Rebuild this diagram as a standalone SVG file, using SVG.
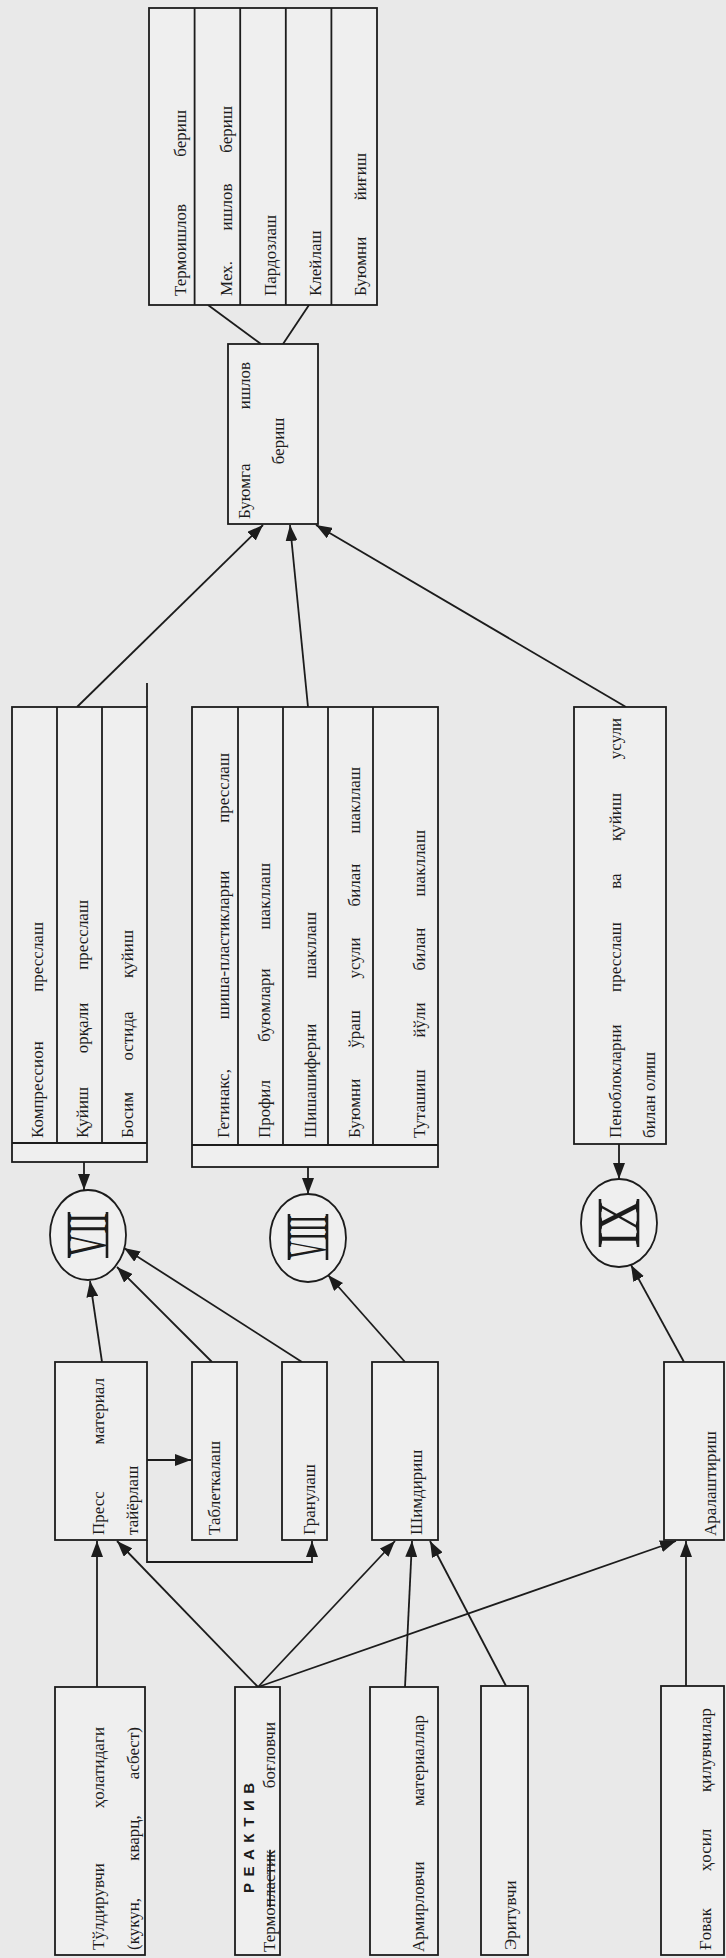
<svg xmlns="http://www.w3.org/2000/svg" width="726" height="1958" viewBox="0 0 726 1958">
<style>
.b{fill:#efefef;stroke:#1c1c1c;stroke-width:1.8}
.l{fill:none;stroke:#1c1c1c;stroke-width:1.8}
.a{marker-end:url(#ah)}
.t{font-family:"Liberation Serif","Times New Roman",serif;font-size:17px;fill:#1c1c1c}
.m{text-anchor:middle}
.e{text-anchor:end}
.r{font-family:"Liberation Serif","Times New Roman",serif;font-size:58px;fill:#1c1c1c}
.bar{fill:none;stroke:#1c1c1c;stroke-width:2.6}
.s{font-family:"Liberation Sans",Arial,sans-serif;font-size:15px;font-weight:bold;fill:#1c1c1c}
</style>
<defs>
<marker id="ah" viewBox="0 0 16 12" refX="16" refY="6" markerWidth="16" markerHeight="12" markerUnits="userSpaceOnUse" orient="auto">
<path d="M0,0 L16,6 L0,12 z" fill="#1c1c1c"/>
</marker>
</defs>
<rect width="726" height="1958" fill="#e9e9e9"/>

<g id="connectors">
<path class="l a" d="M97,1687 L97,1541"/>
<path class="l a" d="M258,1687 L117,1541"/>
<path class="l a" d="M258,1687 L395,1541"/>
<path class="l a" d="M258,1687 L676,1541"/>
<path class="l a" d="M405,1687 L412,1541"/>
<path class="l a" d="M506,1686 L430,1541"/>
<path class="l a" d="M686,1686 L686,1541"/>
<path class="l a" d="M147,1460 L191,1460"/>
<path class="l a" d="M147,1540 L147,1562 L312,1562 L312,1541"/>
<path class="l a" d="M102,1362 L90,1281"/>
<path class="l a" d="M212,1362 L117,1267"/>
<path class="l a" d="M302,1362 L124,1248"/>
<path class="l a" d="M84,1162 L84,1190"/>
<path class="l a" d="M308,1167 L308,1194"/>
<path class="l a" d="M405,1362 L328,1275"/>
<path class="l a" d="M619,1144 L619,1179"/>
<path class="l a" d="M684,1362 L631,1265"/>
<path class="l a" d="M77,707 L263,525"/>
<path class="l a" d="M308,707 L290,525"/>
<path class="l a" d="M626,707 L316,525"/>
<path class="l" d="M261,344 L208,305"/>
<path class="l" d="M283,344 L309,305"/>
</g>

<g id="finishing-list">
<rect class="b" x="149" y="8" width="228" height="297"/>
<path class="l" d="M194.6,8 V305 M240.2,8 V305 M285.8,8 V305 M331.4,8 V305"/>
<g transform="translate(186,296) rotate(-90)"><text class="t" x="0">Термоишлов</text><text class="t e" x="186">бериш</text></g>
<g transform="translate(232,296) rotate(-90)"><text class="t" x="0">Мех.</text><text class="t m" x="89">ишлов</text><text class="t e" x="190">бериш</text></g>
<text class="t" transform="translate(276,296) rotate(-90)">Пардозлаш</text>
<text class="t" transform="translate(321,296) rotate(-90)">Клейлаш</text>
<g transform="translate(366,296) rotate(-90)"><text class="t" x="0">Буюмни</text><text class="t e" x="143">йиғиш</text></g>
</g>

<g id="finishing">
<rect class="b" x="228" y="344" width="90" height="180"/>
<g transform="translate(250,519) rotate(-90)"><text class="t" x="0">Буюмга</text><text class="t e" x="157">ишлов</text></g>
<text class="t m" transform="translate(284,441) rotate(-90)">бериш</text>
</g>

<g id="group7-processes">
<rect class="b" x="12" y="707" width="135" height="455"/>
<path class="l" d="M57,707 V1143 M102,707 V1143 M12,1143 H147 M147,683 V707"/>
<g transform="translate(43,1138) rotate(-90)"><text class="t" x="0">Компрессион</text><text class="t e" x="216">пресслаш</text></g>
<g transform="translate(88,1138) rotate(-90)"><text class="t" x="0">Қуйиш</text><text class="t m" x="110">орқали</text><text class="t e" x="238">пресслаш</text></g>
<g transform="translate(133,1138) rotate(-90)"><text class="t" x="0">Босим</text><text class="t m" x="102">остида</text><text class="t e" x="208">қуйиш</text></g>
</g>

<g id="group8-processes">
<rect class="b" x="192" y="707" width="246" height="460"/>
<path class="l" d="M238,707 V1145 M283,707 V1145 M328,707 V1145 M373,707 V1145 M192,1145 H438"/>
<g transform="translate(229,1138) rotate(-90)"><text class="t" x="0">Гетинакс,</text><text class="t m" x="193">шиша-пластикларни</text><text class="t e" x="385">пресслаш</text></g>
<g transform="translate(270,1138) rotate(-90)"><text class="t" x="0">Профил</text><text class="t m" x="133">буюмлари</text><text class="t e" x="275">шакллаш</text></g>
<g transform="translate(316,1138) rotate(-90)"><text class="t" x="0">Шишашиферни</text><text class="t e" x="226">шакллаш</text></g>
<g transform="translate(360,1138) rotate(-90)"><text class="t" x="0">Буюмни</text><text class="t m" x="109">ўраш</text><text class="t m" x="180">усули</text><text class="t m" x="253">билан</text><text class="t e" x="371">шакллаш</text></g>
<g transform="translate(425,1138) rotate(-90)"><text class="t" x="0">Туташиш</text><text class="t m" x="118">йўли</text><text class="t m" x="189">билан</text><text class="t e" x="308">шакллаш</text></g>
</g>

<g id="group9-process">
<rect class="b" x="574" y="707" width="92" height="437"/>
<g transform="translate(621,1138) rotate(-90)"><text class="t" x="0">Пеноблокларни</text><text class="t m" x="181">пресслаш</text><text class="t m" x="257">ва</text><text class="t m" x="321">қуйиш</text><text class="t e" x="420">усули</text></g>
<text class="t" transform="translate(655,1138) rotate(-90)">билан олиш</text>
</g>

<g id="circle-VII">
<ellipse class="b" cx="88" cy="1235" rx="38" ry="45"/>
<text class="r" transform="translate(107,1257) rotate(-90)" textLength="44" lengthAdjust="spacingAndGlyphs">VII</text>
<path class="bar" d="M69,1212 V1258 M107,1212 V1258"/>
</g>
<g id="circle-VIII">
<ellipse class="b" cx="308" cy="1238" rx="38" ry="44"/>
<text class="r" transform="translate(327,1259) rotate(-90)" textLength="44" lengthAdjust="spacingAndGlyphs">VIII</text>
<path class="bar" d="M289,1214 V1260 M327,1214 V1260"/>
</g>
<g id="circle-IX">
<ellipse class="b" cx="619" cy="1223" rx="38" ry="44"/>
<text class="r" transform="translate(638,1246) rotate(-90)" textLength="46" lengthAdjust="spacingAndGlyphs">IX</text>
<path class="bar" d="M600,1199 V1247 M638,1199 V1247"/>
</g>

<g id="press-material">
<rect class="b" x="55" y="1362" width="92" height="178"/>
<g transform="translate(104,1535) rotate(-90)"><text class="t" x="0">Пресс</text><text class="t e" x="157">материал</text></g>
<text class="t" transform="translate(138,1535) rotate(-90)">тайёрлаш</text>
</g>
<g id="tabletting">
<rect class="b" x="192" y="1362" width="45" height="178"/>
<text class="t" transform="translate(220,1535) rotate(-90)">Таблеткалаш</text>
</g>
<g id="granulation">
<rect class="b" x="282" y="1362" width="45" height="178"/>
<text class="t" transform="translate(315,1535) rotate(-90)">Гранулаш</text>
</g>
<g id="impregnation">
<rect class="b" x="372" y="1362" width="66" height="178"/>
<text class="t" transform="translate(422,1535) rotate(-90)">Шимдириш</text>
</g>
<g id="mixing">
<rect class="b" x="664" y="1362" width="60" height="178"/>
<text class="t" transform="translate(716,1536) rotate(-90)">Аралаштириш</text>
</g>

<g id="filler">
<rect class="b" x="55" y="1687" width="90" height="268"/>
<g transform="translate(104,1950) rotate(-90)"><text class="t" x="0">Тўлдирувчи</text><text class="t e" x="223">ҳолатидаги</text></g>
<g transform="translate(139,1950) rotate(-90)"><text class="t" x="0">(кукун,</text><text class="t m" x="112">кварц,</text><text class="t e" x="223">асбест)</text></g>
</g>
<g id="binder">
<rect class="b" x="235" y="1687" width="45" height="268"/>
<text class="s" transform="translate(254,1893) rotate(-90)" textLength="110" lengthAdjust="spacing">РЕАКТИВ</text>
<g transform="translate(275,1952) rotate(-90)"><text class="t" x="0">Термо<tspan text-decoration="line-through">пластик</tspan></text><text class="t e" x="230">боғловчи</text></g>
</g>
<g id="reinforcing">
<rect class="b" x="370" y="1687" width="68" height="268"/>
<g transform="translate(424,1952) rotate(-90)"><text class="t" x="0">Армирловчи</text><text class="t e" x="237">материаллар</text></g>
</g>
<g id="solvent">
<rect class="b" x="481" y="1686" width="47" height="269"/>
<text class="t" transform="translate(516,1950) rotate(-90)">Эритувчи</text>
</g>
<g id="foaming-agents">
<rect class="b" x="661" y="1686" width="63" height="269"/>
<g transform="translate(711,1950) rotate(-90)"><text class="t" x="0">Ғовак</text><text class="t m" x="100">ҳосил</text><text class="t e" x="242">қилувчилар</text></g>
</g>
</svg>
